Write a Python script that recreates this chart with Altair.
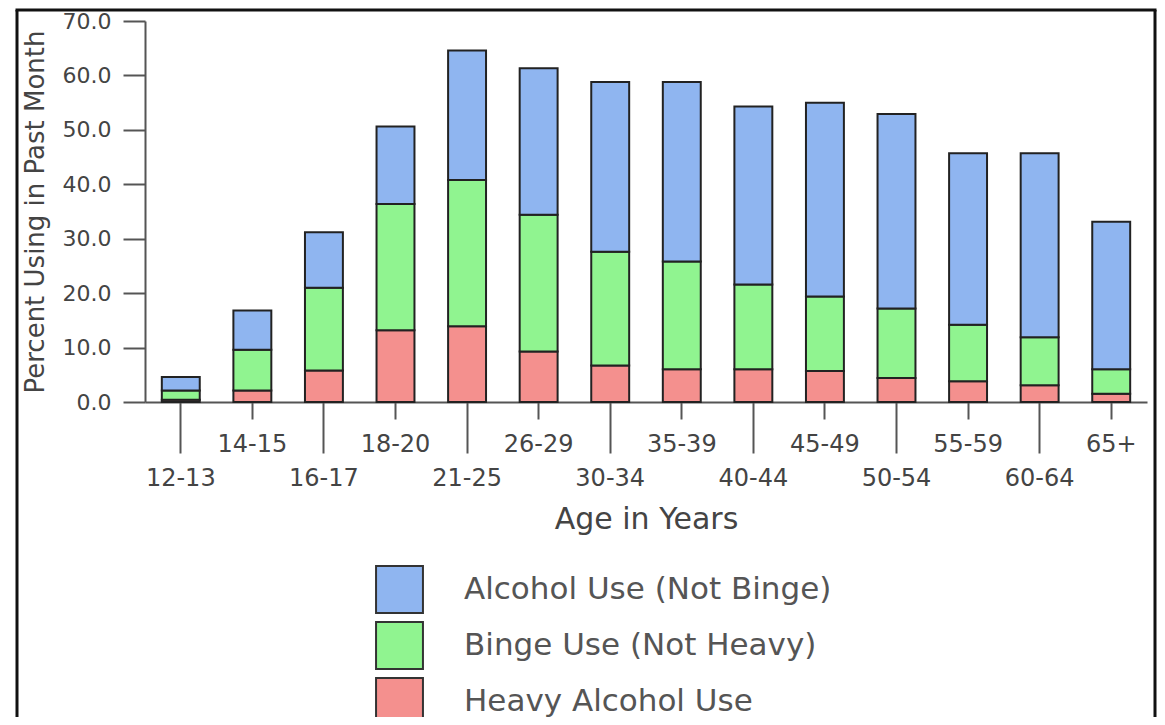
import altair as alt
import pandas as pd

ages = ["12-13", "14-15", "16-17", "18-20", "21-25", "26-29", "30-34",
        "35-39", "40-44", "45-49", "50-54", "55-59", "60-64", "65+"]
heavy = [0.4, 2.1, 5.8, 13.2, 13.9, 9.3, 6.7, 6.0, 6.0, 5.7, 4.4, 3.8, 3.1, 1.5]
binge = [1.7, 7.5, 15.2, 23.2, 26.9, 25.1, 20.9, 19.8, 15.6, 13.7, 12.8, 10.4, 8.8, 4.5]
not_binge = [2.5, 7.2, 10.2, 14.2, 23.8, 26.9, 31.2, 33.0, 32.7, 35.6, 35.7, 31.5, 33.8, 27.1]

series = ["Alcohol Use (Not Binge)", "Binge Use (Not Heavy)", "Heavy Alcohol Use"]
colors = ["#8fb5f0", "#90f490", "#f4908e"]
y_ticks = [0, 10, 20, 30, 40, 50, 60, 70]

rows = []
for i, a in enumerate(ages):
    rows.append({"age": a, "series": series[2], "value": heavy[i], "ord": 0})
    rows.append({"age": a, "series": series[1], "value": binge[i], "ord": 1})
    rows.append({"age": a, "series": series[0], "value": not_binge[i], "ord": 2})
df = pd.DataFrame(rows)

lower_row = ages[::2]
test = "indexof([" + ",".join("'%s'" % a for a in lower_row) + "], datum.value) >= 0"

FONT = "DejaVu Sans"
TXT = "#444444"

bars = alt.Chart(df).mark_bar(stroke="#222222", strokeWidth=2).encode(
    x=alt.X("age:N", sort=ages,
            scale=alt.Scale(paddingInner=0.47, paddingOuter=0.235),
            axis=alt.Axis(title="Age in Years", labelAngle=0,
                          labelFont=FONT, labelFontSize=24, labelColor=TXT,
                          labelPadding=13,
                          tickSize={"condition": {"test": test, "value": 51}, "value": 17},
                          tickColor="#555555", tickWidth=2,
                          domainColor="#555555", domainWidth=2,
                          titleFont=FONT, titleFontSize=30, titleFontWeight="normal",
                          titleColor=TXT, titlePadding=14, grid=False)),
    y=alt.Y("value:Q", stack="zero",
            scale=alt.Scale(domain=[0, 70], nice=False),
            axis=alt.Axis(title="Percent Using in Past Month", values=y_ticks,
                          format=".1f", labelFont=FONT, labelFontSize=22,
                          labelColor=TXT, labelPadding=12, tickSize=22,
                          tickColor="#555555", tickWidth=2,
                          domainColor="#555555", domainWidth=2,
                          titleFont=FONT, titleFontSize=26, titleFontWeight="normal",
                          titleColor=TXT, titlePadding=14, grid=False)),
    color=alt.Color("series:N", scale=alt.Scale(domain=series, range=colors),
                    legend=alt.Legend(title=None, orient="none", legendX=230, legendY=544,
                                      symbolType="square", symbolSize=2200,
                                      symbolStrokeColor="#333333", symbolStrokeWidth=2,
                                      symbolOpacity=1,
                                      labelFont=FONT, labelFontSize=31, labelColor="#555555",
                                      labelOffset=40, labelLimit=700, rowPadding=1,
                                      padding=0)),
    order=alt.Order("ord:Q", sort="ascending"),
)

frame = pd.DataFrame({"k": [0]})
border_left = alt.Chart(frame).mark_rule(color="#111111", strokeWidth=3).encode(
    x=alt.value(-128), y=alt.value(-11), y2=alt.value(720))
border_top = alt.Chart(frame).mark_rule(color="#111111", strokeWidth=3).encode(
    x=alt.value(-129.5), x2=alt.value(1011.5), y=alt.value(-11))
border_right = alt.Chart(frame).mark_rule(color="#111111", strokeWidth=3).encode(
    x=alt.value(1010), y=alt.value(-11), y2=alt.value(720))

chart = alt.layer(bars, border_left, border_top, border_right).properties(
    width=1002, height=381,
    autosize=alt.AutoSizeParams(type="none"),
    padding={"left": 137, "top": 13, "right": 10, "bottom": 315},
    background="white",
).configure_view(stroke=None)

chart.save("out.html", embed_options={"renderer": "svg", "actions": False})
